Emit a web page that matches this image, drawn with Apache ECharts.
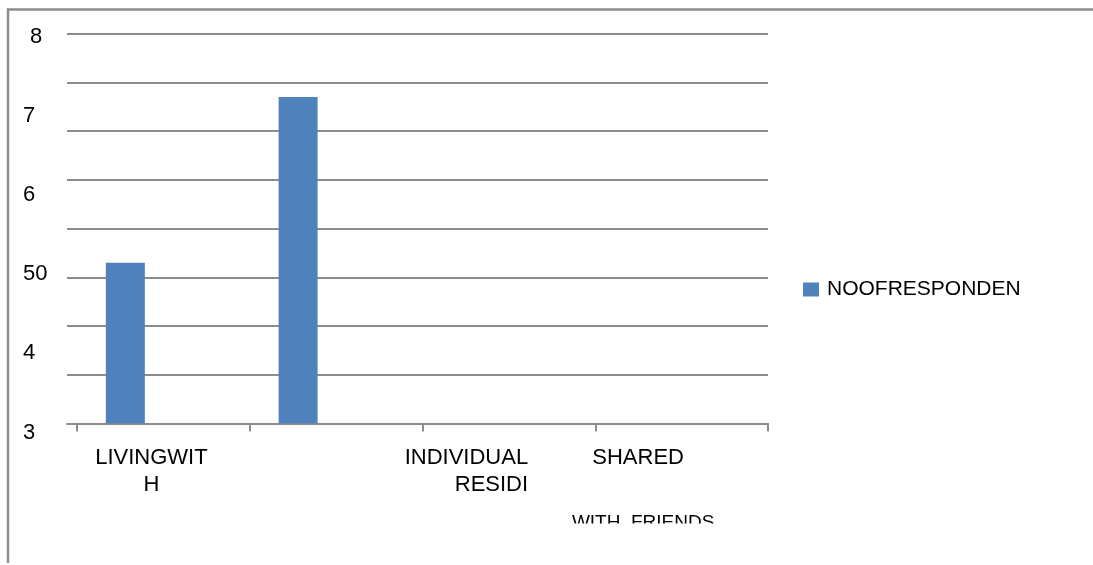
<!DOCTYPE html>
<html>
<head>
<meta charset="utf-8">
<script src="https://cdn.jsdelivr.net/npm/echarts@6/dist/echarts.min.js"></script>
<style>
html,body{margin:0;padding:0;background:#fff;}
#chart{width:1093px;height:565px;}
</style>
</head>
<body>
<div id="chart"></div>
<script>
// ---- data ----
var categories = ['LIVINGWITH', '', 'INDIVIDUAL RESIDI', 'SHARED WITH FRIENDS'];
var seriesName = 'NOOFRESPONDEN';
var seriesValues = [33, 67, 0, 0];
var gridValueMin = 0, gridValueMax = 80, gridValueStep = 10;
var yTickValues = [3, 4, 5, 6, 7, 8];
var yTickLabels = ['3', '4', '50', '6', '7', '8'];
var xLabelLines = [['LIVINGWIT', 'H'], [], ['INDIVIDUAL', 'RESIDI'], ['SHARED', '', 'WITH  FRIENDS']];

var FONT = 'Liberation Sans';
var GRAY = '#8c8c8c';

function xLabelFormatter(value, index) {
  var l = xLabelLines[index] || [];
  if (index === 0) return '{a|' + l[0] + '}\n{a|' + l[1] + '}';
  if (index === 2) return '{b|' + l[0] + '}\n{c|' + l[1] + '}';
  if (index === 3) return '{d|' + l[0] + '}\n{g| }\n{e|' + l[2] + '}';
  return '';
}
function yLabelFormatter(v) {
  var i = yTickValues.indexOf(Math.round(v));
  if (i < 0) return '';
  var t = yTickLabels[i];
  return (t === '8') ? '{p|' + t + '}' : '{n|' + t + '}';
}

var chart = echarts.init(document.getElementById('chart'), null, {renderer: 'canvas'});
var txt = {fontFamily: FONT, fontSize: 22, color: '#000', lineHeight: 27};
var option = {
  animation: false,
  backgroundColor: '#fff',
  textStyle: {fontFamily: FONT},
  legend: {
    data: [seriesName],
    left: 803, top: 279, padding: 0,
    icon: 'rect', itemWidth: 16, itemHeight: 14,
    textStyle: {fontFamily: FONT, fontSize: 21, color: '#000', padding: [0, 0, 0, 3]}
  },
  grid: [
    {left: 67, right: 325, top: 33.5, bottom: 141.5},
    {left: 77, right: 325, top: 33.5, bottom: 141.5},
    {left: 67, right: 325, top: 36.5, bottom: 132.5}
  ],
  xAxis: [
    {gridIndex: 0, type: 'value', min: 0, max: 1,
      axisLine: {show: true, lineStyle: {color: GRAY, width: 2}},
      axisTick: {show: false}, axisLabel: {show: false}, splitLine: {show: false}},
    {gridIndex: 1, type: 'category', data: categories, boundaryGap: true,
      axisLine: {show: true, lineStyle: {color: GRAY, width: 2}},
      axisTick: {show: true, length: 8, interval: 0, lineStyle: {color: GRAY, width: 2}},
      axisLabel: {show: true, interval: 0, margin: 21, formatter: xLabelFormatter,
        fontFamily: FONT, fontSize: 22, color: '#000', lineHeight: 27,
        rich: {
          a: Object.assign({}, txt, {padding: [0, 24, 0, 0]}),
          b: Object.assign({}, txt, {padding: [0, 85, 0, 0]}),
          c: Object.assign({}, txt, {align: 'right', padding: [0, 85, 0, 0]}),
          d: Object.assign({}, txt, {padding: [0, 87, 0, 0]}),
          g: Object.assign({}, txt, {lineHeight: 38}),
          e: Object.assign({}, txt, {fontSize: 19, padding: [0, 77, 0, 0]})
        }},
      splitLine: {show: false}},
    {gridIndex: 2, type: 'value', min: 0, max: 1, show: false}
  ],
  yAxis: [
    {gridIndex: 0, type: 'value', min: gridValueMin, max: gridValueMax, interval: gridValueStep,
      axisLine: {show: false}, axisTick: {show: false}, axisLabel: {show: false},
      splitLine: {show: true, lineStyle: {color: GRAY, width: 2}}},
    {gridIndex: 1, type: 'value', min: gridValueMin, max: gridValueMax, interval: gridValueStep, show: false},
    {gridIndex: 2, type: 'value', min: 3, max: 8, interval: 1,
      axisLine: {show: false}, axisTick: {show: false}, splitLine: {show: false},
      axisLabel: {show: true, align: 'left', margin: 44, formatter: yLabelFormatter,
        rich: {
          n: {fontFamily: FONT, fontSize: 22, color: '#000'},
          p: {fontFamily: FONT, fontSize: 22, color: '#000', padding: [0, 0, 0, 7]}
        }}}
  ],
  series: [
    {name: seriesName, type: 'bar', xAxisIndex: 1, yAxisIndex: 1,
      data: seriesValues.map(function (v) { return v > 0 ? v : null; }),
      barWidth: 39, barGap: '95%',
      itemStyle: {color: '#4f81bd'}},
    {name: '_blank', type: 'bar', xAxisIndex: 1, yAxisIndex: 1,
      data: categories.map(function () { return null; }),
      barWidth: 39, itemStyle: {color: '#4f81bd'}}
  ],
  graphic: [
    {type: 'line', z: 100, shape: {x1: 7, y1: 9.5, x2: 1093, y2: 9.5}, style: {stroke: GRAY, lineWidth: 2.5}},
    {type: 'line', z: 100, shape: {x1: 8, y1: 8.5, x2: 8, y2: 563}, style: {stroke: GRAY, lineWidth: 2.5}},
    {type: 'rect', z: 100, shape: {x: 560, y: 523.5, width: 170, height: 25}, style: {fill: '#fff'}}
  ]
};
chart.setOption(option);
</script>
</body>
</html>
